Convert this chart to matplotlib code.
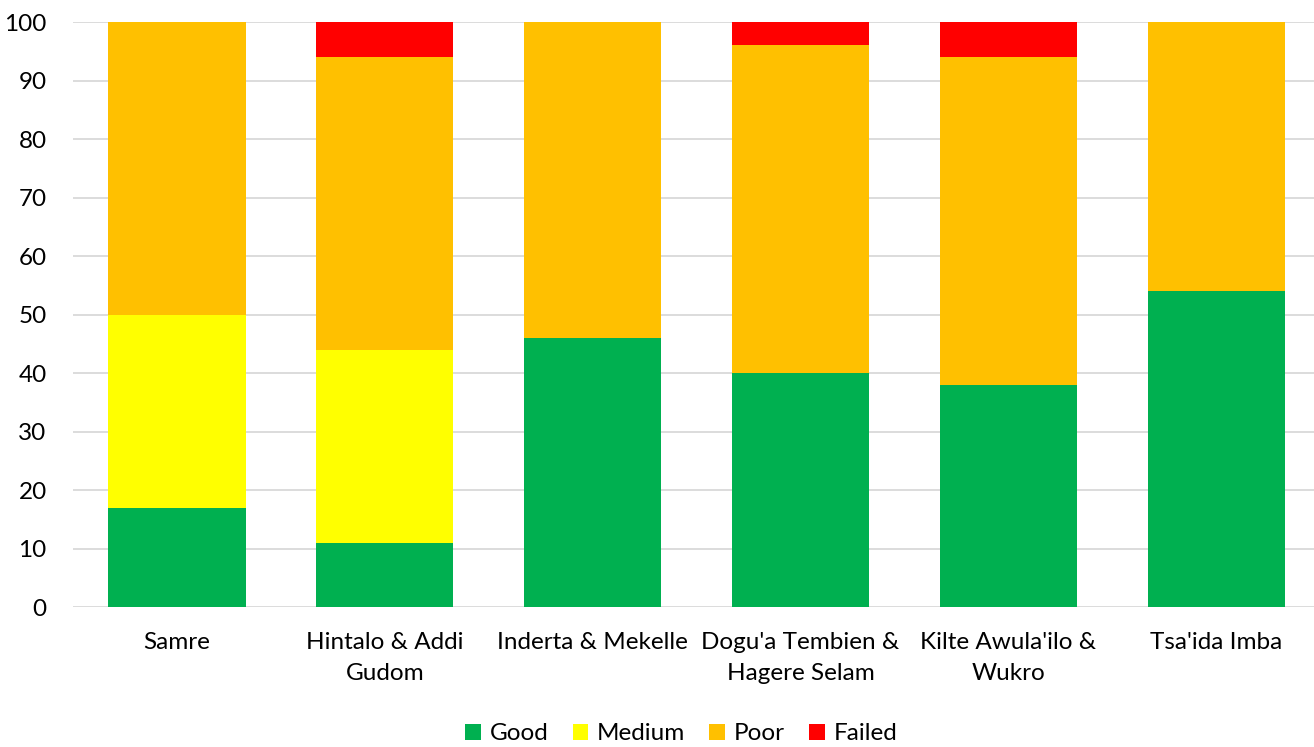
import matplotlib
matplotlib.use('Agg')
import matplotlib.pyplot as plt
import numpy as np

plt.rcParams['font.family'] = ['Lato', 'DejaVu Sans']

# Data
categories = ['Samre', 'Hintalo & Addi\nGudom', 'Inderta & Mekelle',
              "Dogu'a Tembien &\nHagere Selam", "Kilte Awula'ilo &\nWukro", "Tsa'ida Imba"]
good = [17, 11, 46, 40, 38, 54]
medium = [33, 33, 0, 0, 0, 0]
poor = [50, 50, 54, 56, 56, 46]
failed = [0, 6, 0, 4, 6, 0]

series = [('Good', good, '#00b050'), ('Medium', medium, '#ffff00'),
          ('Poor', poor, '#ffc000'), ('Failed', failed, '#ff0000')]

fig = plt.figure(figsize=(13.14, 7.47), dpi=100)
ax = fig.add_axes([0.0556, 0.1874, 0.9444, 0.7831])

x = np.arange(len(categories))
bottom = np.zeros(len(categories))
for name, vals, col in series:
    ax.bar(x, vals, 0.66, bottom=bottom, color=col, label=name, zorder=3)
    bottom += np.array(vals)

ax.set_ylim(0, 100)
ax.set_xlim(-0.5, 5.47)
ax.set_yticks(range(0, 101, 10))
ax.set_xticks(x)
ax.set_xticklabels(categories, fontsize=17.5, linespacing=1.6)
ax.tick_params(axis='y', labelsize=17.5, length=0, pad=19)
ax.tick_params(axis='x', length=0, pad=18)
ax.grid(axis='y', color='#d9d9d9', linewidth=1.3, zorder=0)
for s in ax.spines.values():
    s.set_visible(False)

ax.legend(loc='lower center', bbox_to_anchor=(0.49, -0.272), ncol=4, frameon=False,
          fontsize=17.5, handlelength=0.65, handleheight=0.65, handletextpad=0.35,
          columnspacing=1.0)

fig.savefig('out.png', dpi=100)
